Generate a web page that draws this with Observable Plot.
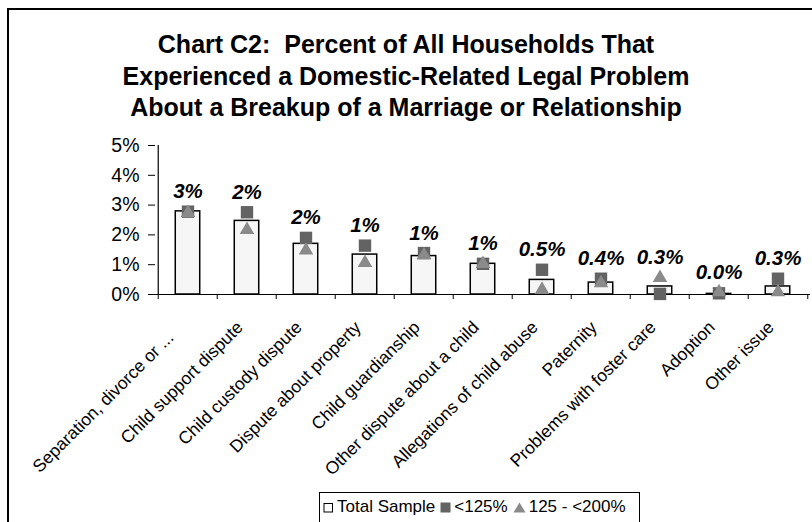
<!DOCTYPE html>
<html>
<head>
<meta charset="utf-8">
<script src="https://cdn.jsdelivr.net/npm/d3@7"></script>
<script src="https://cdn.jsdelivr.net/npm/@observablehq/plot@0.6"></script>
<style>
  html, body { margin: 0; padding: 0; background: #fff; }
  #page { position: relative; width: 812px; height: 522px; overflow: hidden; font-family: Arial, "Liberation Sans", sans-serif; }
  #frame { position: absolute; left: 7px; top: 8px; width: 900px; height: 700px; border-left: 2px solid #000; border-top: 2px solid #000; }
  #title { position: absolute; left: 0; top: 29px; width: 812px; text-align: center; font-weight: bold; font-size: 25px; line-height: 31.5px; color: #000; }
  #chart { position: absolute; left: 0; top: 130px; }
  #legend { position: absolute; left: 319px; top: 492px; width: 321px; height: 40px; border: 1px solid #000; box-sizing: border-box; background: #fff; font-size: 17px; color: #000; padding: 4px 0 0 3px; white-space: nowrap; }
  #legend span.item { display: inline-flex; align-items: center; margin-right: 5px; }
  #legend svg { margin-right: 3px; }
</style>
</head>
<body>
<div id="page">
  <div id="frame"></div>
  <div id="title">Chart C2:&nbsp; Percent of All Households That<br>Experienced a Domestic-Related Legal Problem<br>About a Breakup of a Marriage or Relationship</div>
  <div id="chart"></div>
  <div id="legend"></div>
</div>
<script>
const categories = [
  "Separation, divorce or ...",
  "Child support dispute",
  "Child custody dispute",
  "Dispute about property",
  "Child guardianship",
  "Other dispute about a child",
  "Allegations of child abuse",
  "Paternity",
  "Problems with foster care",
  "Adoption",
  "Other issue"
];
const totalSample = [2.79, 2.47, 1.70, 1.34, 1.29, 1.03, 0.49, 0.40, 0.27, 0.02, 0.27];
const below125 = [2.78, 2.76, 1.90, 1.64, 1.39, 1.03, 0.83, 0.53, 0.02, 0.04, 0.53];
const from125to200 = [2.74, 2.17, 1.48, 1.06, 1.32, 1.03, 0.16, 0.38, 0.56, 0.08, 0.08];
const valueLabels = ["3%", "2%", "2%", "1%", "1%", "1%", "0.5%", "0.4%", "0.3%", "0.0%", "0.3%"];
const yTicks = [0, 1, 2, 3, 4, 5];
const seriesNames = ["Total Sample", "<125%", "125 - <200%"];

const rows = categories.map((c, i) => ({
  cat: c,
  total: totalSample[i],
  low: below125[i],
  mid: from125to200[i],
  label: valueLabels[i],
  top: Math.max(totalSample[i], below125[i], from125to200[i])
}));

const W = 812, H = 355;
const mL = 155, mR = 2, mT = 15, mB = 191;
const bw = (W - mL - mR) / categories.length;
const font = 'Arial, "Liberation Sans", sans-serif';

const chart = Plot.plot({
  width: W,
  height: H,
  marginLeft: mL,
  marginRight: mR,
  marginTop: mT,
  marginBottom: mB,
  style: { fontFamily: font, background: "transparent", overflow: "visible" },
  x: { domain: categories, padding: 0, label: null },
  y: { domain: [0, 5], label: null },
  marks: [
    Plot.axisY({
      ticks: yTicks, tickFormat: d => d + "%", tickSize: 7, tickPadding: 9,
      fontSize: 19.5, label: null, stroke: "#000", color: "#000"
    }),
    Plot.barY(rows, {
      x: "cat", y: "total", fill: "#f6f6f6", stroke: "#000", strokeWidth: 1.5,
      insetLeft: bw * 0.29, insetRight: bw * 0.29
    }),
    Plot.ruleY([0], { stroke: "#000", strokeWidth: 1.2 }),
    Plot.ruleX(categories, { x: d => d, dx: -bw / 2, y1: 0, y2: -0.17, stroke: "#000", strokeWidth: 1 }),
    Plot.ruleX([categories[categories.length - 1]], { x: d => d, dx: bw / 2, y1: 0, y2: -0.17, stroke: "#000", strokeWidth: 1 }),
    Plot.ruleX([categories[0]], { x: d => d, dx: -bw / 2, y1: 0, y2: 5, stroke: "#000", strokeWidth: 1.2 }),
    Plot.dot(rows, { x: "cat", y: "low", symbol: "square", r: 7, fill: "#636363", stroke: "none" }),
    Plot.dot(rows, { x: "cat", y: "mid", symbol: "triangle", r: 5.4, fill: "#8a8a8a", stroke: "none" }),
    Plot.text(rows, {
      x: "cat", y: "top", text: "label", dy: -20,
      fontSize: 20.5, fontWeight: "bold", fontStyle: "italic", fill: "#000"
    }),
    Plot.axisX({
      tickRotate: -45, tickSize: 0, tickPadding: 30, dx: -7, fontSize: 17.5,
      tickFormat: d => d.endsWith("...") ? d + "\u00a0\u00a0\u00a0" : d,
      label: null, color: "#000"
    })
  ]
});
document.getElementById("chart").appendChild(chart);

// Legend
const legendSymbols = [
  `<svg width="11" height="11"><rect x="1" y="1.5" width="8.5" height="8.5" fill="#fff" stroke="#000" stroke-width="1"/></svg>`,
  `<svg width="11" height="11"><rect x="0.5" y="0.5" width="10" height="10" fill="#636363"/></svg>`,
  `<svg width="13" height="11"><path d="M6.5,0.5 L12.5,10.5 L0.5,10.5 Z" fill="#8a8a8a"/></svg>`
];
document.getElementById("legend").innerHTML = seriesNames
  .map((n, i) => `<span class="item">${legendSymbols[i]}${n.replace("<", "&lt;")}</span>`)
  .join("");
</script>
</body>
</html>
